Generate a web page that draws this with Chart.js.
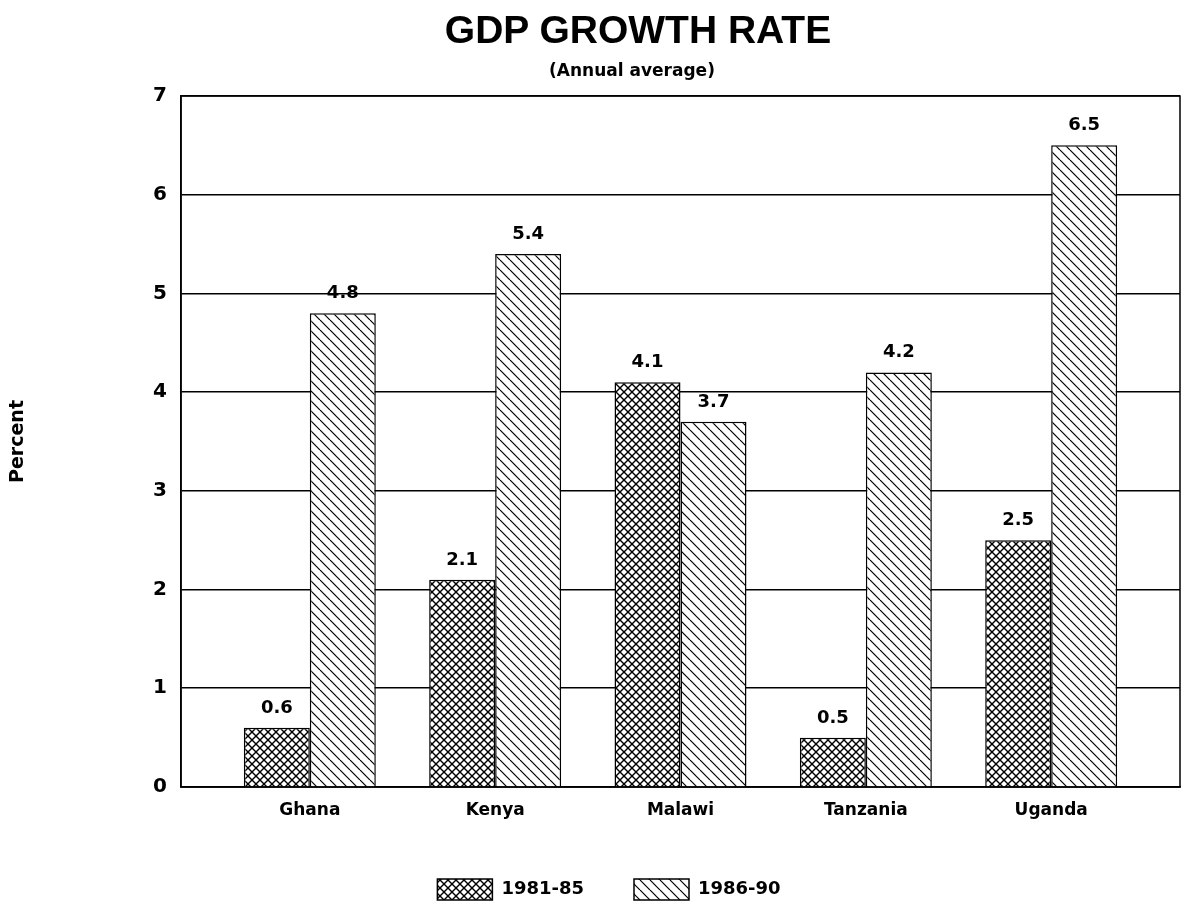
<!DOCTYPE html>
<html>
<head>
<meta charset="utf-8">
<script src="https://cdn.jsdelivr.net/npm/chart.js@4.4.1/dist/chart.umd.min.js"></script>
<style>
  html, body { margin: 0; padding: 0; background: #fff; }
  #wrap { position: relative; width: 1185px; height: 911px; }
  #chart { position: absolute; left: 0; top: 0; }
  .t { position: absolute; left: 0; text-align: center; color: #000; white-space: nowrap; }
  #title { top: 10px; width: 1276px; font: bold 39px/39px "Liberation Sans", Arial, sans-serif; }
  #sub { top: 62px; width: 1264px; font: bold 17px/17px "DejaVu Sans", sans-serif; }
</style>
</head>
<body>
<div id="wrap">
  <canvas id="chart" width="1185" height="911"></canvas>
  <div class="t" id="title">GDP GROWTH RATE</div>
  <div class="t" id="sub">(Annual average)</div>
</div>
<script>
/* ---------- Data ---------- */
const countries = ["Ghana", "Kenya", "Malawi", "Tanzania", "Uganda"];
const periods = ["1981-85", "1986-90"];
const growth8185 = [0.6, 2.1, 4.1, 0.5, 2.5];
const growth8690 = [4.8, 5.4, 3.7, 4.2, 6.5];
const yTicks = [0, 1, 2, 3, 4, 5, 6, 7];

const FONT = "DejaVu Sans";
const ctx = document.getElementById("chart").getContext("2d");

/* ---------- Hatch patterns ---------- */
function hatch(size, dirs, lw) {
  const c = document.createElement("canvas");
  c.width = c.height = size;
  const g = c.getContext("2d");
  g.fillStyle = "#fff"; g.fillRect(0, 0, size, size);
  g.strokeStyle = "#000"; g.lineWidth = lw;
  dirs.forEach(d => {
    for (let k = -size; k <= size; k += size) {
      g.beginPath();
      if (d === "\\") { g.moveTo(k, 0); g.lineTo(k + size, size); }
      else { g.moveTo(k, size); g.lineTo(k + size, 0); }
      g.stroke();
    }
  });
  return ctx.createPattern(c, "repeat");
}
const crossHatch = hatch(8, ["\\", "/"], 1.4);
const diagHatch = hatch(10, ["\\"], 1.2);

/* ---------- Plugins ---------- */
const frame = {
  id: "frame",
  beforeDatasetsDraw(chart) {
    const a = chart.chartArea, c = chart.ctx;
    c.save(); c.strokeStyle = "#000"; c.lineWidth = 1.5;
    c.strokeRect(a.left, a.top, a.right - a.left, a.bottom - a.top);
    c.restore();
  }
};

// legend sits a bit right of the canvas centre in the original
const legendShift = {
  id: "legendShift",
  afterLayout(chart) {
    if (chart.legend) { chart.legend.left += 19; chart.legend.right += 19; }
  }
};

const valueLabels = {
  id: "valueLabels",
  afterDatasetsDraw(chart) {
    const c = chart.ctx;
    c.save();
    c.font = `bold 18px "${FONT}"`; c.fillStyle = "#000";
    c.textAlign = "center"; c.textBaseline = "alphabetic";
    chart.data.datasets.forEach((ds, i) => {
      chart.getDatasetMeta(i).data.forEach((bar, j) => {
        c.fillText(ds.data[j].y.toFixed(1), bar.x, bar.y - 15);
      });
    });
    c.restore();
  }
};

/* ---------- Chart ---------- */
const toPoints = arr => arr.map((v, i) => ({ x: i, y: v }));

new Chart(ctx, {
  type: "bar",
  data: {
    datasets: [
      { label: periods[0], data: toPoints(growth8185), backgroundColor: crossHatch, borderColor: "#000", borderWidth: 1.5 },
      { label: periods[1], data: toPoints(growth8690), backgroundColor: diagHatch, borderColor: "#000", borderWidth: 1.5 }
    ]
  },
  options: {
    responsive: false, animation: false,
    categoryPercentage: 0.712, barPercentage: 1,
    layout: { padding: { top: 96, right: 5, left: 0, bottom: 1 } },
    plugins: {
      tooltip: { enabled: false },
      legend: {
        position: "bottom",
        labels: { boxWidth: 55, boxHeight: 21, padding: 50, color: "#000", font: { family: FONT, weight: "bold", size: 18 } }
      }
    },
    scales: {
      x: {
        type: "linear", min: -0.695, max: 4.695, offset: false,
        grid: { display: false, drawTicks: false, offset: false },
        border: { display: true, color: "#000", width: 1.5 },
        afterBuildTicks: s => { s.ticks = countries.map((_, i) => ({ value: i })); },
        afterFit: s => { s.height = 42; },
        ticks: {
          callback: v => countries[v], autoSkip: false, maxRotation: 0, padding: 13,
          color: "#000", font: { family: FONT, weight: "bold", size: 17 }
        }
      },
      y: {
        min: 0, max: 7,
        afterBuildTicks: s => { s.ticks = yTicks.map(v => ({ value: v })); },
        afterFit: s => { s.width = 181; },
        grid: { color: "#000", lineWidth: 1.6, drawTicks: false },
        border: { display: true, color: "#000", width: 1.6 },
        ticks: { padding: 14, color: "#000", font: { family: FONT, weight: "bold", size: 20 } },
        title: {
          display: true, text: "Percent", color: "#000",
          font: { family: FONT, weight: "bold", size: 19 }, padding: { top: 7, bottom: 0 }
        }
      }
    }
  },
  plugins: [frame, legendShift, valueLabels]
});
</script>
</body>
</html>
